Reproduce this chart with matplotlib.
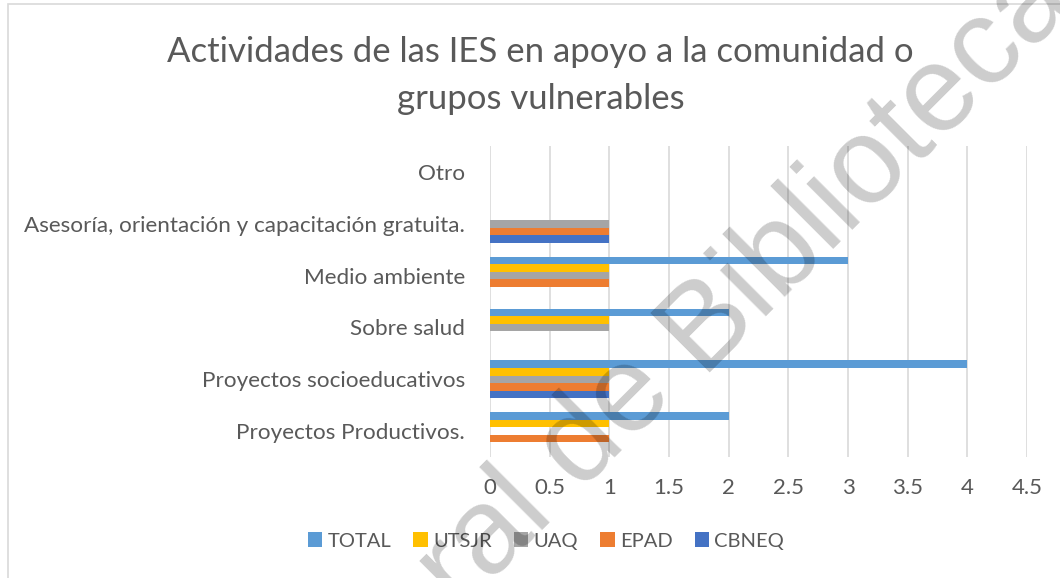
import numpy as np
import matplotlib.pyplot as plt
from matplotlib.patches import Rectangle

# datos
categorias = ["Proyectos Productivos.", "Proyectos socioeducativos", "Sobre salud",
              "Medio ambiente", "Asesoría, orientación y capacitación gratuita.", "Otro"]
series = ["TOTAL", "UTSJR", "UAQ", "EPAD", "CBNEQ"]
total = [2, 4, 2, 3, 0, 0]
utsjr = [1, 1, 1, 1, 0, 0]
uaq = [0, 1, 1, 1, 1, 0]
epad = [1, 1, 0, 1, 1, 0]
cbneq = [0, 1, 0, 0, 1, 0]
valores = [total, utsjr, uaq, epad, cbneq]
colores = ["#5B9BD5", "#FFC000", "#A5A5A5", "#ED7D31", "#4472C4"]

plt.rcParams['font.family'] = ['Lato', 'DejaVu Sans']
texto = "#595959"

fig = plt.figure(figsize=(10.6, 5.78), dpi=100)
ax = fig.add_axes([0.4623, 0.2093, 0.5067, 0.5381])

y = np.arange(len(categorias))
alto = 0.145
for i, (nombre, vals, c) in enumerate(zip(series, valores, colores)):
    # TOTAL arriba, CBNEQ abajo dentro de cada grupo
    ax.barh(y + (2 - i) * alto, vals, height=alto, color=c, label=nombre, zorder=3)

ax.set_xlim(0, 4.5)
ax.set_ylim(-0.5, len(categorias) - 0.5)
ax.set_xticks(np.arange(0, 4.51, 0.5))
ax.set_xticklabels(["0", "0.5", "1", "1.5", "2", "2.5", "3", "3.5", "4", "4.5"])
ax.set_yticks(y)
ax.set_yticklabels(categorias)
ax.tick_params(length=0, labelsize=16, colors=texto)
ax.tick_params(axis='x', pad=15)
ax.tick_params(axis='y', pad=18, labelsize=16.2)
ax.grid(axis='x', color="#D9D9D9", linewidth=1.2, zorder=0)
for s in ax.spines.values():
    s.set_visible(False)

fig.text(0.51, 0.8695, "Actividades de las IES en apoyo a la comunidad o\ngrupos vulnerables",
         ha='center', va='center', fontsize=25, color=texto, linespacing=1.58)

ax.legend(loc='center', bbox_to_anchor=(0.515, 0.064), bbox_transform=fig.transFigure,
          ncol=5, frameon=False, fontsize=14.5, labelcolor=texto, handlelength=0.72,
          handleheight=0.72, handletextpad=0.26, columnspacing=1.1)

# borde del área del gráfico
fig.patches.append(Rectangle((8 / 1060, -0.1), 1.2, 1 - 4 / 578 + 0.1, transform=fig.transFigure,
                             fill=False, edgecolor="#D9D9D9", linewidth=1.2))

# marca de agua
x0, y0 = 700 / 1060, 1 - 372 / 578
fig.text(x0, y0, "Dirección General de ", family='Liberation Sans', fontsize=88,
         color="black", alpha=0.2, rotation=45, rotation_mode='anchor',
         ha='right', va='baseline', zorder=10)
fig.text(x0, y0, "Bibliotecas", family='Liberation Sans', fontsize=88,
         color="black", alpha=0.2, rotation=45, rotation_mode='anchor',
         ha='left', va='baseline', zorder=10)

fig.savefig("out.png", dpi=100)
